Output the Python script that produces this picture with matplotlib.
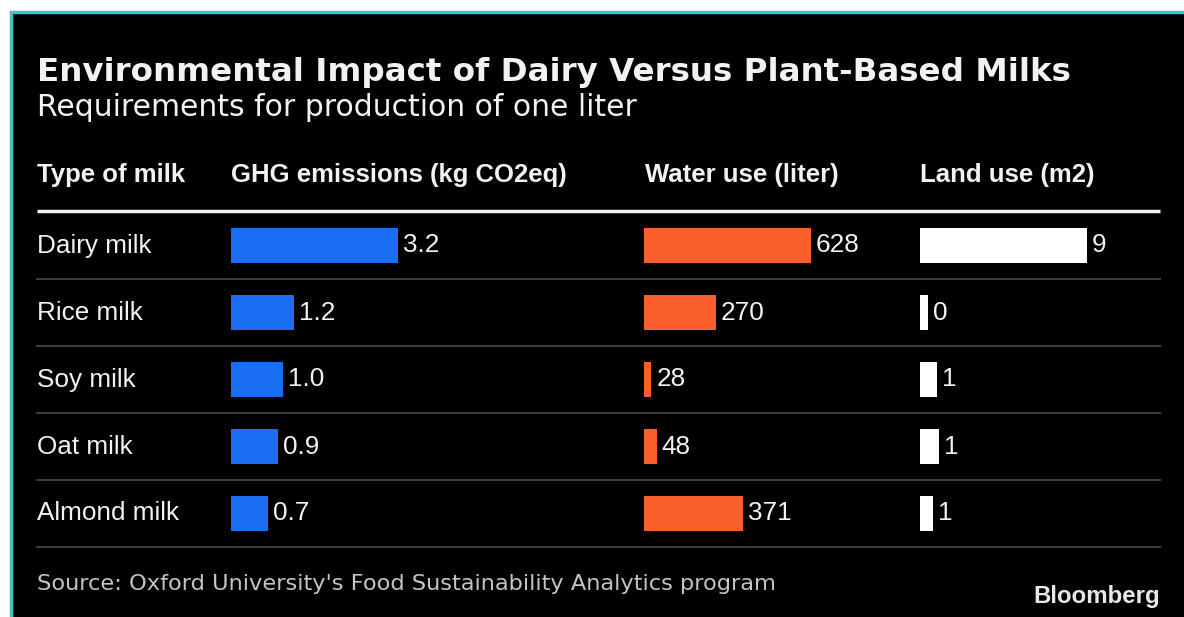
import matplotlib.pyplot as plt
from matplotlib.patches import Rectangle
from matplotlib.transforms import blended_transform_factory

# Data

milks = ['Dairy milk', 'Rice milk', 'Soy milk', 'Oat milk', 'Almond milk']
ghg = [3.2, 1.2, 1.0, 0.9, 0.7]
water = [628, 270, 28, 48, 371]
land = [8.95, 0.45, 0.9, 1.0, 0.7]
headers = ['Type of milk', 'GHG emissions (kg CO2eq)', 'Water use (liter)', 'Land use (m2)']

title = 'Environmental Impact of Dairy Versus Plant-Based Milks'
subtitle = 'Requirements for production of one liter'
source = "Source: Oxford University's Food Sustainability Analytics program"

# Layout in pixels

W, H = 1184, 617
fig = plt.figure(figsize=(W/100, H/100), dpi=100, facecolor='white')
bg = fig.add_axes([0, 0, 1, 1])
bg.set_xlim(0, W)
bg.set_ylim(H, 0)
bg.axis('off')

bg.add_patch(Rectangle((11, 12), W, H, facecolor='black', edgecolor='#3ec6be', lw=2.5))

sans = ['Liberation Sans', 'DejaVu Sans']
txt = '#f2f2f2'

bg.text(37, 72, title, color=txt, fontsize=23.4, fontweight='bold',
        family='DejaVu Sans', va='center')
bg.text(37, 108, subtitle, color=txt, fontsize=21.5, family='DejaVu Sans', va='center')

for x, h in zip([37, 231, 645, 920], headers):
    bg.text(x, 175, h, color=txt, fontsize=18.5, fontweight='bold', family=sans, va='center')

bg.plot([37, 1160], [211, 211], color='#f2f2f2', lw=2.5, solid_capstyle='butt')
rows_top, row_h = 212, 67
for i in range(len(milks)):
    y = rows_top + row_h*(i + 1)
    bg.plot([37, 1160], [y, y], color='#3c3c3c', lw=1.5)


def bar_axes(x0, vals, color, fmt):
    ax = fig.add_axes([x0/W, 1-(rows_top + row_h*len(vals))/H, 167/W, row_h*len(vals)/H])
    ax.set_xlim(0, max(vals))
    ax.set_ylim(len(vals) - 0.5, -0.5)
    ax.axis('off')
    ax.barh(range(len(vals)), vals, height=0.51, color=color)
    for i, v in enumerate(vals):
        ax.annotate(fmt(v), (v, i), xytext=(3.6, 0), textcoords='offset points',
                    va='center', ha='left', color=txt, fontsize=18.8,
                    family=sans, annotation_clip=False)
    return ax


ax1 = bar_axes(231, ghg, '#1a6ef4', lambda v: f'{v:.1f}')
bar_axes(644, water, '#f95e2b', lambda v: f'{v:.0f}')
bar_axes(920, land, '#ffffff', lambda v: f'{round(v):.0f}')

tr = blended_transform_factory(bg.transData, ax1.transData)
for i, m in enumerate(milks):
    ax1.text(37, i, m, transform=tr, color=txt, fontsize=18.8, family=sans, va='center')

bg.text(37, 584, source, color='#c4c4c4', fontsize=16.2, family='DejaVu Sans', va='center')
bg.text(1160, 596, 'Bloomberg', color='#e8e8e8', fontsize=17.3, fontweight='bold',
        family=sans, va='center', ha='right')

fig.savefig('out.png', dpi=100, facecolor=fig.get_facecolor())
